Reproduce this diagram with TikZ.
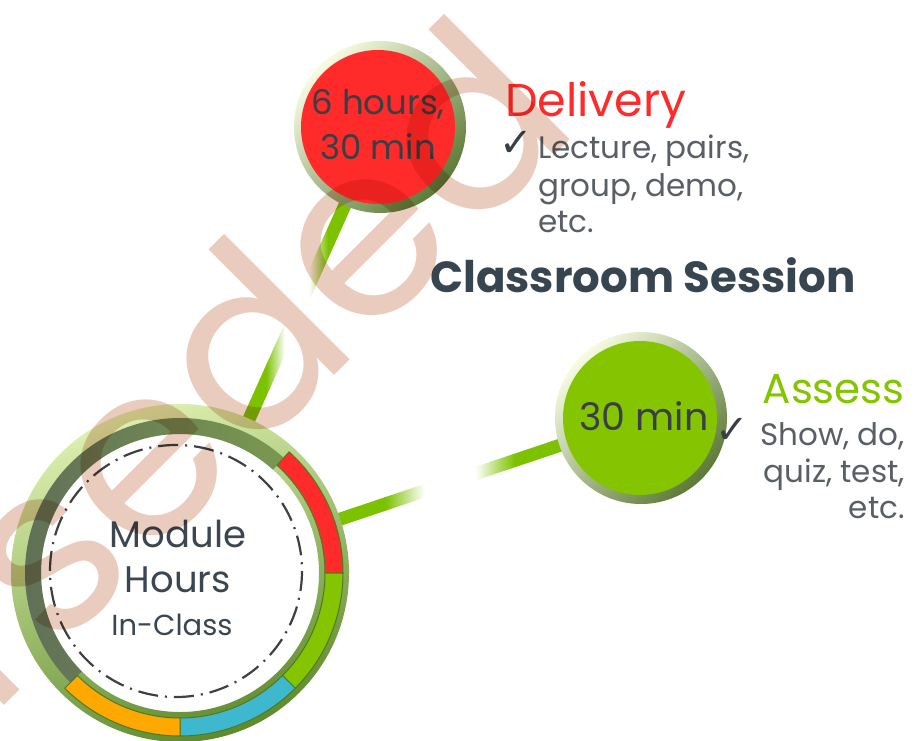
\documentclass[tikz,border=0pt]{standalone}
\usepackage{fontspec}
\usepackage{xcolor}
\usetikzlibrary{calc}
\newfontfamily\avant{Poppins}
\newfontfamily\symfont{DejaVu Sans}
\pgfdeclarelayer{links}
\pgfsetlayers{links,main}
\definecolor{delred}{HTML}{FF2A2A}
\definecolor{asgreen}{HTML}{84C400}
\definecolor{lgreen}{HTML}{7CC200}
\definecolor{segcyan}{HTML}{3DB8CF}
\definecolor{segorange}{HTML}{FFA800}
\definecolor{segln}{HTML}{4F7A22}
\definecolor{ringlt}{HTML}{DDF0B0}
\definecolor{ringdk}{HTML}{5E8A2C}
\definecolor{bandl}{HTML}{5F6E58}
\definecolor{bandr}{HTML}{7A9850}
\definecolor{rimlt}{HTML}{F6FBE2}
\definecolor{rimdk}{HTML}{5C7A36}
\definecolor{slate}{HTML}{3B4650}
\definecolor{inktxt}{HTML}{3A3F46}
\definecolor{greytxt}{HTML}{5A5F66}
\definecolor{heading}{HTML}{36454F}
\definecolor{wmc}{RGB}{233,204,190}
% the node box takes the 25bp..75bp part of the shading
\pgfdeclarehorizontalshading{linkfade}{100bp}{color(0bp)=(lgreen); color(36bp)=(lgreen);
  color(44.5bp)=(white); color(55.5bp)=(white); color(64bp)=(lgreen); color(100bp)=(lgreen)}
\newcommand{\fsz}[1]{\fontsize{#1}{#1}\selectfont}
% annular piece of the big ring: options, start, end, inner r, outer r
\newcommand{\ringarc}[5]{%
  \path[#1] ([shift={(#2:#4)}]ring.center) arc[start angle=#2, end angle=#3, radius=#4]
    -- ([shift={(#3:#5)}]ring.center) arc[start angle=#3, end angle=#2, radius=#5] -- cycle;}

\begin{document}
\begin{tikzpicture}[x=1pt, y=-1pt,
    hub/.style={circle, minimum size=338pt, inner sep=0pt},
    dot/.style={circle, minimum size=172pt, inner sep=0pt},
    linkbar/.style={rectangle, inner sep=0pt, minimum height=13pt, shading=linkfade},
    txt/.style={inner sep=0pt, text=#1},
    tick/.style={inner sep=0pt, text=inktxt, font=\symfont\fsz{40}},
    dashdot/.style={draw=black!75, line width=2.2pt, dash pattern=on 20pt off 7pt on 2pt off 7pt},
    wmark/.style={inner sep=0pt, text=wmc, font=\avant\fsz{240}},
]
% Page
\useasboundingbox (0,0) rectangle (921,741);

% Hubs
\node[hub] (ring) at (180,573) {};
\node[dot] (delc) at (380,127) {};
\node[dot] (asc) at (641,418) {};

% Links, fading to white in the middle
\path (ring) -- (delc) coordinate[pos=0] (l1a) coordinate[pos=1] (l1b);
\path (ring) -- (asc) coordinate[pos=0] (l2a) coordinate[pos=1] (l2b);
\begin{pgfonlayer}{links}
\fill[white] (0,0) rectangle (921,741);
\foreach \s/\e in {l1a/l1b, l2a/l2b}
  \path let \p1=($(\e)-(\s)$) in
    node[linkbar, rotate={atan2(\y1,\x1)}, minimum width={veclen(\x1,\y1)+8}] at ($(\s)!0.5!(\e)$) {};
\end{pgfonlayer}

% Module ring
\shade[even odd rule, left color=ringlt, right color=ringdk, shading angle=20]
  (ring.center) circle[radius=169] circle[radius=139];
\ringarc{left color=bandl, right color=bandr}{-48}{-225}{139}{155}
\ringarc{fill=delred, draw=segln, line width=1pt}{-48}{0}{145}{163}
\ringarc{fill=asgreen, draw=segln, line width=1pt}{0}{45}{145}{163}
\ringarc{fill=segcyan, draw=segln, line width=1pt}{45}{90}{145}{163}
\ringarc{fill=segorange, draw=segln, line width=1pt}{90}{135}{145}{163}
\draw[dashdot] (ring.center) ++(-4,-2) circle[radius=126];

\node[txt=slate, anchor=base, font=\avant\fsz{37}] (mod1) at (178,547) {Module};
\node[txt=slate, anchor=base, font=\avant\fsz{37}] (mod2) at (178,592) {Hours};
\node[txt=slate, anchor=base, font=\avant\fsz{29}] (mod3) at (172,635) {In-Class};

% Delivery
\shade[top color=rimlt, bottom color=rimdk, shading angle=45] (delc.center) circle[radius=86];
\fill[delred] ($(delc.center)+(-2,0)$) circle[radius=77];
\node[txt=inktxt, anchor=base, font=\avant\fsz{34}] (del1) at (378,115) {6 hours,};
\node[txt=inktxt, anchor=base, font=\avant\fsz{34}] (del2) at (378,160) {30 min};

\node[txt=delred, anchor=base west, font=\avant\fsz{46}] (deltitle) at (505,117) {Delivery};
\node[tick] (deltick) at (516,144) {✓};
\node[txt=greytxt, anchor=base west, font=\avant\fsz{31}] (dl1) at (538,158) {Lecture, pairs,};
\node[txt=greytxt, anchor=base west, font=\avant\fsz{31}] (dl2) at (538,196) {group, demo,};
\node[txt=greytxt, anchor=base west, font=\avant\fsz{31}] (dl3) at (538,232) {etc.};

% Heading
\node[txt=heading, anchor=base west, font=\avant\bfseries\fsz{43.5}] (head) at (430,292) {Classroom Session};

% Assess
\shade[top color=rimlt, bottom color=rimdk, shading angle=45] (asc.center) circle[radius=86];
\fill[asgreen] ($(asc.center)+(-1,0)$) circle[radius=77];
\node[txt=inktxt, anchor=base, font=\avant\fsz{38}] (as1) at (644,430) {30 min};

\node[txt=asgreen, anchor=base east, font=\avant\fsz{42}] (astitle) at (905,403) {Assess};
\node[tick] (astick) at (732,431) {✓};
\node[txt=greytxt, anchor=base east, font=\avant\fsz{31}] (al1) at (905,445) {Show, do,};
\node[txt=greytxt, anchor=base east, font=\avant\fsz{31}] (al2) at (905,482) {quiz, test,};
\node[txt=greytxt, anchor=base east, font=\avant\fsz{31}] (al3) at (905,518) {etc.};

% Stamp
\begin{scope}[blend mode=multiply]
\node[wmark, rotate=45, anchor=base east] (stamp) at (583,127) {Superseded};
\end{scope}
\end{tikzpicture}
\end{document}
